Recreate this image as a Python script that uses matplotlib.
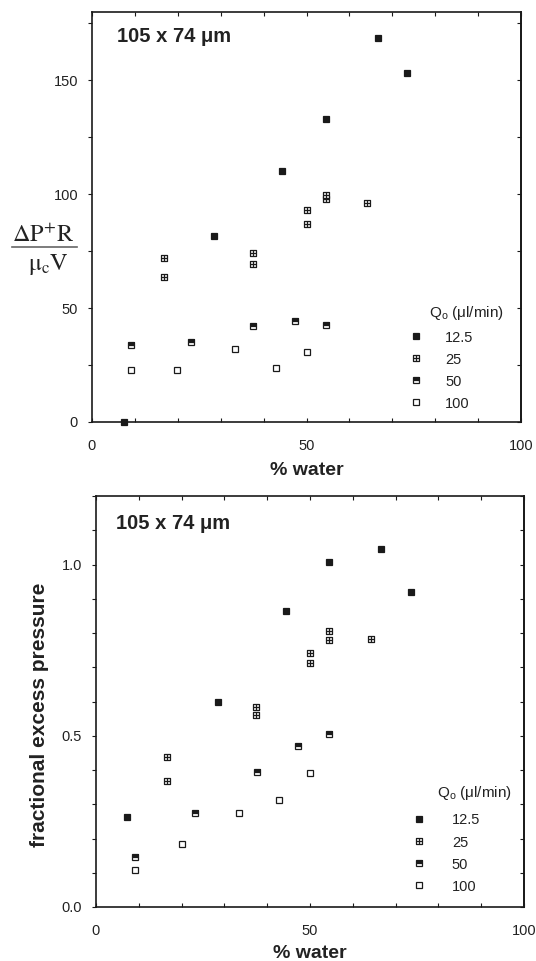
import matplotlib
matplotlib.use("Agg")
import matplotlib.pyplot as plt
from matplotlib.path import Path
from matplotlib.lines import Line2D
import numpy as np

# ---------------- data ----------------
flow_labels = ["12.5", "25", "50", "100"]

top_x_125 = [7.4, 28.5, 44.4, 54.5, 66.7, 73.5]
top_y_125 = [0.0, 81.6, 110.4, 132.9, 168.8, 153.2]
top_x_25 = [16.7, 16.7, 37.5, 37.5, 50.0, 50.0, 54.5, 54.5, 64.2]
top_y_25 = [72.2, 63.7, 74.4, 69.3, 93.1, 87.1, 98.0, 99.6, 96.0]
top_x_50 = [9.1, 23.1, 37.5, 47.4, 54.6]
top_y_50 = [33.7, 35.3, 42.0, 44.2, 42.6]
top_x_100 = [9.1, 19.9, 33.3, 42.9, 50.0]
top_y_100 = [22.7, 23.0, 32.0, 23.5, 30.8]

bot_x_125 = [7.3, 28.5, 44.5, 54.5, 66.6, 73.7]
bot_y_125 = [0.262, 0.600, 0.863, 1.007, 1.046, 0.920]
bot_x_25 = [16.6, 16.6, 37.4, 37.4, 50.0, 50.0, 54.5, 54.5, 64.3]
bot_y_25 = [0.439, 0.367, 0.583, 0.560, 0.742, 0.713, 0.807, 0.780, 0.783]
bot_x_50 = [9.2, 23.1, 37.5, 47.3, 54.5]
bot_y_50 = [0.145, 0.274, 0.393, 0.469, 0.505]
bot_x_100 = [9.2, 20.0, 33.4, 42.8, 50.0]
bot_y_100 = [0.109, 0.184, 0.273, 0.313, 0.390]

x_ticks = list(range(0, 101, 10))
x_ticklabels = ["0", "", "", "", "", "50", "", "", "", "", "100"]
top_yticks = list(range(0, 176, 25))
top_yticklabels = ["0", "", "50", "", "100", "", "150", ""]
bot_yticks = [round(0.1 * i, 1) for i in range(13)]
bot_yticklabels = ["0.0", "", "", "", "", "0.5", "", "", "", "", "1.0", "", ""]

panel_label = "105 x 74 \u03bcm"
xlabel = "% water"
bot_ylabel = "fractional excess pressure"
legend_title = "Q$_{\\mathrm{o}}$ (\u03bcl/min)"

# ---------------- style ----------------
plt.rcParams["font.family"] = ["Liberation Sans", "DejaVu Sans"]
plt.rcParams["mathtext.rm"] = "Liberation Sans"
plt.rcParams["mathtext.it"] = "Liberation Sans:italic"
K = "#1a1a1a"
TXT = "#222222"

W, H = 536, 961
fig = plt.figure(figsize=(W / 100, H / 100), dpi=100)


def fx(px):
    return px / W


def fy(py):
    return 1 - py / H


cross = Path(
    [(-1, -1), (1, -1), (1, 1), (-1, 1), (-1, -1), (0, -1), (0, 1), (-1, 0), (1, 0)],
    [Path.MOVETO, Path.LINETO, Path.LINETO, Path.LINETO, Path.CLOSEPOLY,
     Path.MOVETO, Path.LINETO, Path.MOVETO, Path.LINETO],
)

MS = 4.6
MEW = 0.9
styles = [
    dict(marker="s", mfc=K, mec=K),
    dict(marker=cross, mfc="white", mec=K),
    dict(marker="s", fillstyle="top", mfc=K, markerfacecoloralt="white", mec=K),
    dict(marker="s", mfc="white", mec=K),
]


def setup(ax, yticks, yticklabels, ylim):
    ax.set_xlim(0, 100)
    ax.set_ylim(*ylim)
    ax.set_xticks(x_ticks)
    ax.set_xticklabels(x_ticklabels)
    ax.set_yticks(yticks)
    ax.set_yticklabels(yticklabels)
    for s in ax.spines.values():
        s.set_linewidth(1.2)
        s.set_color(K)
    ax.tick_params(axis="x", direction="in", top=True, length=3, width=0.8,
                   pad=12, labelsize=10.5, colors=K, labelcolor=TXT)
    ax.tick_params(axis="y", direction="out", right=False, length=3, width=0.8,
                   pad=7, labelsize=10.5, colors=K, labelcolor=TXT)
    sec = ax.secondary_yaxis("right")
    sec.set_yticks(yticks)
    sec.tick_params(direction="in", length=3, width=0.8, labelright=False, colors=K)
    sec.spines["right"].set_linewidth(1.2)


ax1 = fig.add_axes([fx(92), fy(422), (521 - 92) / W, (422 - 12) / H])
ax2 = fig.add_axes([fx(96), fy(907), (524 - 96) / W, (907 - 496) / H])

setup(ax1, top_yticks, top_yticklabels, (0, 180))
setup(ax2, bot_yticks, bot_yticklabels, (0, 1.2))

top_series = [(top_x_125, top_y_125), (top_x_25, top_y_25),
              (top_x_50, top_y_50), (top_x_100, top_y_100)]
bot_series = [(bot_x_125, bot_y_125), (bot_x_25, bot_y_25),
              (bot_x_50, bot_y_50), (bot_x_100, bot_y_100)]

for ax, series in ((ax1, top_series), (ax2, bot_series)):
    for (xs, ys), st, lab in zip(series, styles, flow_labels):
        ax.plot(xs, ys, linestyle="none", ms=MS, mew=MEW, label=lab,
                clip_on=False, zorder=3, **st)


def add_legend(ax, left_px, top_px, pad):
    handles = [Line2D([], [], linestyle="none", ms=MS, mew=MEW, **st) for st in styles]
    leg = ax.legend(handles, flow_labels, loc="upper left",
                    bbox_to_anchor=(fx(left_px), fy(top_px)),
                    bbox_transform=fig.transFigure, frameon=False,
                    borderpad=0, borderaxespad=0, handlelength=1.0,
                    handletextpad=pad, labelspacing=0.55, fontsize=10.5,
                    numpoints=1)
    for t in leg.get_texts():
        t.set_color(TXT)
    return leg


add_legend(ax1, 408.7, 330.5, 1.49)
add_legend(ax2, 411.7, 813.5, 1.75)

fig.text(fx(466.5), fy(313), legend_title, ha="center", va="center",
         fontsize=11, color=TXT, math_fontfamily="custom")
fig.text(fx(474), fy(793), legend_title, ha="center", va="center",
         fontsize=11, color=TXT, math_fontfamily="custom")

# panel labels
fig.text(fx(116.7), fy(42), panel_label, ha="left", va="baseline",
         fontsize=14.5, fontweight="bold", color=TXT)
fig.text(fx(116.2), fy(529.3), panel_label, ha="left", va="baseline",
         fontsize=14.5, fontweight="bold", color=TXT)

# x labels
fig.text(fx(306.5), fy(475), xlabel, ha="center", va="baseline",
         fontsize=14, fontweight="bold", color=TXT)
fig.text(fx(310), fy(958), xlabel, ha="center", va="baseline",
         fontsize=14, fontweight="bold", color=TXT)

# top y label as a fraction
fig.text(fx(43.3), fy(241.7), r"$\mathrm{\Delta P^{+}R}$", ha="center",
         va="baseline", fontsize=17.5, color=TXT, math_fontfamily="stix")
fig.add_artist(Line2D([fx(11.7), fx(77.3)], [fy(246.7), fy(246.7)],
                      transform=fig.transFigure, color="#666666", lw=1.2))
fig.text(fx(47.9), fy(270), r"$\mathrm{\mu_{c}V}$", ha="center",
         va="baseline", fontsize=17.5, color=TXT, math_fontfamily="stix")

# bottom y label
fig.text(fx(40), fy(714.5), bot_ylabel, rotation=90, ha="center", va="center",
         fontsize=15, fontweight="bold", color=TXT)

fig.savefig("out.png", dpi=100)
